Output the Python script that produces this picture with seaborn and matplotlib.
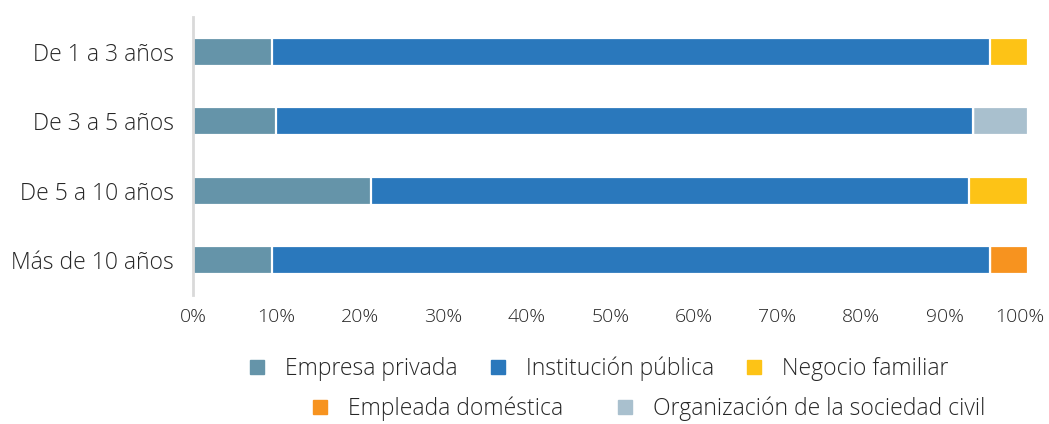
import matplotlib
matplotlib.use("Agg")
import matplotlib.pyplot as plt
import matplotlib.transforms as mtransforms
import seaborn as sns
import pandas as pd
import numpy as np
from matplotlib.lines import Line2D

categories = ["De 1 a 3 años", "De 3 a 5 años", "De 5 a 10 años", "Más de 10 años"]
series_names = ["Empresa privada", "Institución pública", "Negocio familiar",
                "Empleada doméstica", "Organización de la sociedad civil"]
empresa_privada = [9.4, 9.9, 21.3, 9.4]
institucion_publica = [86.0, 83.5, 71.6, 86.0]
negocio_familiar = [4.6, 0.0, 7.1, 0.0]
empleada_domestica = [0.0, 0.0, 0.0, 4.6]
organizacion_civil = [0.0, 6.6, 0.0, 0.0]
colors = ["#6594A9", "#2A78BC", "#FDC316", "#F7931F", "#A9C0CE"]
xticks = [0, 10, 20, 30, 40, 50, 60, 70, 80, 90, 100]
xtick_labels = [f"{t}%" for t in xticks]

series_values = [empresa_privada, institucion_publica, negocio_familiar,
                 empleada_domestica, organizacion_civil]
cum = np.cumsum(np.array(series_values), axis=0)

sns.set_theme(style="white")
plt.rcParams["font.family"] = ["Open Sans", "DejaVu Sans"]
plt.rcParams["font.weight"] = "light"
text_color = "#262626"
fs = 16.5

fig = plt.figure(figsize=(10.49, 4.24), dpi=100)
ax = fig.add_axes([0.184, 0.304, 0.796, 0.656])

for i in range(len(series_names) - 1, -1, -1):
    df = pd.DataFrame({"cat": categories, "val": cum[i]})
    sns.barplot(data=df, x="val", y="cat", order=categories, color=colors[i],
                orient="h", width=0.4, edgecolor="white", linewidth=1.6,
                saturation=1, ax=ax)

ax.set_xlim(0, 100)
ax.set_ylim(3.5, -0.5)
ax.set_xticks(xticks)
ax.set_xticklabels(xtick_labels)
ax.set_xlabel("")
ax.set_ylabel("")
ax.tick_params(axis="both", length=0, colors=text_color)
ax.tick_params(axis="x", pad=9, labelsize=14)
ax.tick_params(axis="y", pad=14, labelsize=fs)
for s in ["top", "right", "bottom"]:
    ax.spines[s].set_visible(False)
ax.spines["left"].set_color("#D9D9D9")
ax.spines["left"].set_linewidth(2)
ax.grid(False)

last = ax.get_xticklabels()[-1]
last.set_transform(last.get_transform() +
                   mtransforms.ScaledTranslation(-0.08, 0, fig.dpi_scale_trans))

def handle(c):
    return Line2D([], [], marker="s", linestyle="none", markersize=10.5,
                  markerfacecolor=c, markeredgecolor=c)

fig.legend([handle(colors[i]) for i in range(3)], series_names[:3],
           loc="center", bbox_to_anchor=(599 / 1049, 1 - 369 / 424),
           ncol=3, frameon=False, fontsize=fs, handlelength=0.66,
           handletextpad=0.87, columnspacing=1.45, labelcolor=text_color)
fig.legend([handle(colors[i]) for i in range(3, 5)], series_names[3:],
           loc="center", bbox_to_anchor=(649 / 1049, 1 - 409 / 424),
           ncol=2, frameon=False, fontsize=fs, handlelength=0.66,
           handletextpad=0.87, columnspacing=2.4, labelcolor=text_color)

fig.savefig("out.png", dpi=100)
